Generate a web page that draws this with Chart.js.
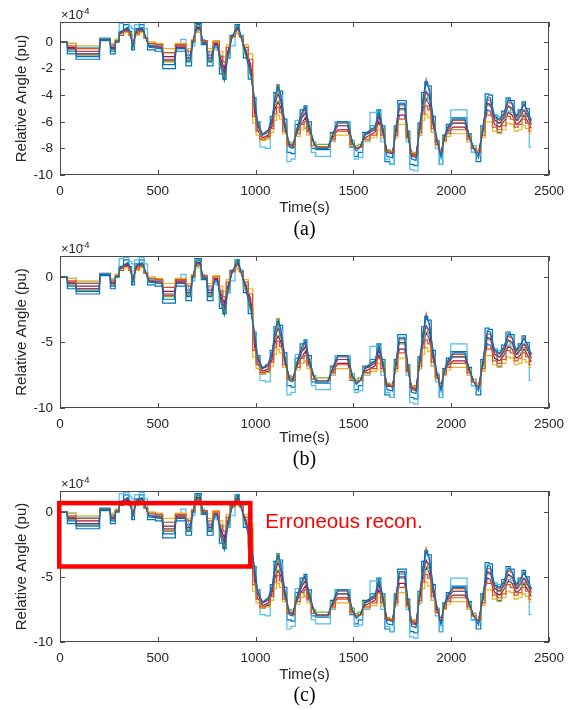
<!DOCTYPE html>
<html>
<head>
<meta charset="utf-8">
<script src="https://cdn.jsdelivr.net/npm/chart.js@4.4.1/dist/chart.umd.min.js"></script>
<style>
  body { margin: 0; background: #fff; width: 578px; height: 710px; position: relative; overflow: hidden; }
  canvas { position: absolute; left: 0; }
</style>
</head>
<body>
<canvas id="chartA" width="578" height="250" style="top:0"></canvas>
<canvas id="chartB" width="578" height="250" style="top:235px"></canvas>
<canvas id="chartC" width="578" height="240" style="top:470px"></canvas>
<script>
// time axis (s)
const times = [0,35,40,80,85,200,205,255,260,280, 285,300,305,345,360,372,390,420,440,455,
  520,530,585,595,640,648,665,680,700,715, 730,750,756,775,790,805,825,840,860,880,
  910,925,950,975,995,1010,1035,1065,1085,1100, 1115,1128,1148,1172,1190,1215,1240,1255,1270,1300,
  1315,1370,1395,1420,1470,1495,1515,1535,1560,1610, 1630,1650,1672,1700,1718,1735,1762,1778,1798,1820,
  1840,1858,1872,1888,1908,1930,1948,1965,1985,2010, 2070,2092,2115,2140,2162,2185,2200,2222,2248,2268,
  2292,2312,2332,2352,2372,2388,2410];

// relative angle, x1e-4 pu
const lineBlue1 = [0,0,-0.7,-0.7,-1.1,-1.1,0.2,0.2,-0.7,-0.7, 0,0,0.7,1.1,0.7,-0.4,0.9,1.1,0.3,-0.4,
  -0.5,-1.7,-1.7,-0.5,-0.5,-1.5,-1.5,0,1.3,1.3, -0.1,-0.1,-1.5,-1.5,-0.3,-0.3,-2.1,-2.9,-1.0,0.4,
  1.3,0.4,-1.0,-2.5,-4.3,-6.0,-7.0,-6.6,-5.7,-4.0, -3.3,-3.9,-5.9,-7.9,-8.0,-6.3,-5.2,-4.9,-6.0,-7.7,
  -8.0,-8.0,-6.9,-6.0,-6.0,-7.5,-8.2,-7.9,-6.9,-6.4, -5.2,-6.4,-8.6,-8.7,-6.4,-4.6,-4.6,-6.7,-8.8,-8.9,
  -6.2,-4.0,-3.1,-3.5,-5.7,-7.5,-8.7,-7.1,-6.3,-5.8, -5.8,-7.0,-8.0,-8.7,-6.4,-4.1,-4.2,-5.6,-5.8,-5.4,
  -4.3,-4.6,-5.6,-5.2,-4.7,-5.1,-5.9];
const lineOrange1 = [0,0,-0.3,-0.3,-0.5,-0.5,0.2,0.2,-0.3,-0.3, 0.1,0.1,0.5,0.8,0.5,-0.1,0.6,0.8,0.3,-0.1,
  -0.2,-0.8,-0.8,-0.2,-0.2,-0.7,-0.7,0.1,0.9,0.9, 0.1,0.1,-0.7,-0.7,0,0,-1.1,-1.5,-0.4,0.4,
  0.9,0.4,-0.4,-1.3,-5.6,-6.7,-7.3,-7.1,-6.5,-5.4, -4.9,-5.3,-6.7,-7.8,-7.9,-6.9,-6.2,-6.0,-6.7,-7.8,
  -7.9,-7.9,-7.3,-6.7,-6.7,-7.7,-8.0,-7.9,-7.3,-7.0, -6.2,-7.0,-8.2,-8.3,-7.0,-5.8,-5.8,-7.2,-8.4,-8.5,
  -6.8,-5.4,-4.8,-5.1,-6.5,-7.7,-8.3,-7.4,-6.9,-6.6, -6.6,-7.3,-8.0,-8.3,-7.0,-5.5,-5.5,-6.4,-6.6,-6.3,
  -5.6,-5.8,-6.4,-6.2,-5.8,-6.1,-6.7];
const lineYellow = [0,0,-0.1,-0.1,-0.3,-0.3,0.2,0.2,-0.1,-0.1, 0.2,0.2,0.5,0.7,0.5,0,0.5,0.7,0.3,0,
  -0.1,-0.5,-0.5,-0.1,-0.1,-0.5,-0.5,0.2,0.7,0.7, 0.1,0.1,-0.5,-0.5,0.1,0.1,-0.7,-1.1,-0.2,0.4,
  0.7,0.4,-0.2,-0.9,-6.1,-7.0,-7.4,-7.3,-6.8,-5.9, -5.5,-5.8,-6.9,-7.8,-7.9,-7.1,-6.6,-6.4,-7.0,-7.8,
  -7.9,-7.9,-7.4,-7.0,-7.0,-7.8,-8.0,-7.9,-7.4,-7.2, -6.6,-7.2,-8.2,-8.2,-7.2,-6.2,-6.2,-7.3,-8.3,-8.4,
  -7.0,-5.9,-5.4,-5.7,-6.8,-7.8,-8.2,-7.5,-7.1,-6.9, -6.9,-7.5,-8.0,-8.2,-7.2,-6.0,-6.0,-6.7,-6.9,-6.6,
  -6.1,-6.2,-6.7,-6.6,-6.3,-6.5,-6.9];
const linePurple = [0,0,-0.5,-0.5,-0.9,-0.9,0.2,0.2,-0.5,-0.5, 0.1,0.1,0.6,1.0,0.6,-0.3,0.8,1.0,0.3,-0.3,
  -0.4,-1.3,-1.3,-0.4,-0.4,-1.2,-1.2,0.1,1.1,1.1, 0,0,-1.2,-1.2,-0.2,-0.2,-1.7,-2.3,-0.7,0.4,
  1.1,0.4,-0.7,-2.0,-4.8,-6.3,-7.0,-6.8,-6.0,-4.5, -3.9,-4.4,-6.2,-7.7,-7.8,-6.5,-5.6,-5.3,-6.3,-7.7,
  -7.9,-7.9,-7.0,-6.3,-6.3,-7.6,-8.0,-7.9,-7.0,-6.6, -5.6,-6.6,-8.3,-8.4,-6.6,-5.0,-5.0,-6.9,-8.5,-8.6,
  -6.4,-4.5,-3.7,-4.1,-6.0,-7.6,-8.4,-7.2,-6.5,-6.1, -6.1,-7.1,-8.0,-8.4,-6.6,-4.6,-4.7,-5.9,-6.1,-5.7,
  -4.8,-5.0,-5.9,-5.6,-5.1,-5.5,-6.2];
const lineGreen = [0,0,-0.6,-0.6,-1.0,-1.0,0.2,0.2,-0.6,-0.6, 0,0,0.7,0.8,0.7,-0.3,0.8,0.9,0.3,-0.3,
  -0.5,-1.5,-1.5,-0.5,-0.5,-1.4,-1.4,0,1.2,1.2, -0.1,-0.1,-1.4,-1.4,-0.2,-0.2,-1.9,-2.7,-0.9,0.4,
  1.2,0.4,-0.9,-2.3,-4.9,-6.3,-6.9,-6.7,-6.0,-4.7, -3.2,-4.6,-6.2,-7.5,-7.6,-6.5,-5.6,-5.4,-6.3,-7.5,
  -7.7,-7.7,-6.9,-6.3,-6.3,-7.4,-7.8,-7.7,-6.9,-6.5, -5.6,-6.5,-8.1,-8.2,-6.5,-5.1,-5.1,-6.8,-8.3,-8.3,
  -6.4,-4.7,-3.9,-4.3,-6.0,-7.4,-8.2,-7.1,-6.5,-6.1, -6.1,-7.0,-7.8,-8.2,-6.5,-4.7,-4.8,-5.9,-6.1,-5.7,
  -4.9,-5.1,-5.9,-5.6,-5.2,-5.6,-6.2];
const lineCyan = [0,0,-0.1,-0.1,-0.4,-0.4,0.3,0.3,-0.2,-0.2, 0.2,0.2,1.4,1.5,1.2,1.0,1.3,1.5,1.0,-0.2,
  -0.3,-0.8,-0.8,-0.2,0.2,-0.6,-1.4,-0.3,0.8,0.9, 0.2,0.1,-0.8,-1.5,-0.4,-0.6,-1.0,-1.5,-1.2,-0.3,
  0.6,0.5,-0.6,-2.4,-4.5,-6.5,-7.9,-8.0,-6.2,-3.9, -3.8,-4.0,-6.5,-9.0,-8.8,-5.9,-6.0,-6.5,-6.8,-8.3,
  -8.6,-8.6,-7.5,-6.0,-6.0,-7.8,-8.8,-8.7,-7.5,-5.3, -5.3,-7.5,-8.8,-9.2,-7.0,-4.8,-4.8,-7.5,-9.6,-9.7,
  -7.0,-5.0,-4.2,-4.5,-6.8,-8.0,-9.2,-7.5,-6.8,-5.1, -5.1,-7.5,-8.3,-8.5,-6.8,-5.2,-5.2,-5.5,-5.6,-5.8,
  -5.2,-5.3,-5.9,-5.8,-5.4,-5.6,-7.9];
const lineRed = [0,0,-0.4,-0.4,-0.7,-0.7,0.2,0.2,-0.4,-0.4, 0.1,0.1,0.6,0.9,0.6,-0.2,0.7,0.9,0.3,-0.2,
  -0.3,-1.1,-1.1,-0.3,-0.3,-1.0,-1.0,0.1,1.0,1.0, 0,0,-1.0,-1.0,-0.1,-0.1,-1.4,-2.0,-0.6,0.4,
  1.0,0.4,-0.6,-1.7,-5.3,-6.6,-7.2,-7.0,-6.3,-5.0, -4.5,-4.9,-6.5,-7.7,-7.8,-6.7,-6.0,-5.7,-6.6,-7.7,
  -7.9,-7.9,-7.2,-6.6,-6.6,-7.7,-8.0,-7.9,-7.2,-6.8, -6.0,-6.8,-8.3,-8.3,-6.8,-5.5,-5.5,-7.1,-8.4,-8.5,
  -6.6,-5.0,-4.3,-4.7,-6.3,-7.7,-8.3,-7.3,-6.7,-6.4, -6.4,-7.2,-8.0,-8.3,-6.8,-5.1,-5.2,-6.2,-6.4,-6.0,
  -5.3,-5.5,-6.2,-6.0,-5.5,-5.9,-6.5];
const lineBlue2 = [0,0,-0.9,-0.9,-1.3,-1.3,0.1,0.1,-0.9,-0.9, 0,0,0.8,1.3,0.8,-0.6,1.0,1.3,0.3,-0.6,
  -0.7,-2.0,-2.0,-0.7,-0.7,-1.8,-1.8,0,1.4,1.4, -0.2,-0.2,-1.8,-1.8,-0.4,-0.4,-2.4,-2.8,-1.2,0.5,
  1.3,0.5,-1.2,-2.8,-4.2,-6.0,-7.4,-7.2,-5.6,-3.8, -3.4,-3.7,-5.8,-8.3,-8.4,-6.2,-5.1,-4.8,-6.0,-8.0,
  -8.1,-8.1,-6.8,-6.0,-6.0,-7.9,-8.6,-8.3,-6.8,-6.3, -5.1,-6.3,-9.0,-9.2,-6.3,-4.4,-4.4,-6.7,-9.2,-9.3,
  -6.1,-3.8,-3.0,-3.3,-5.6,-7.5,-9.2,-7.0,-6.2,-5.7, -5.7,-6.9,-8.3,-9.0,-6.3,-3.9,-4.0,-5.5,-6.8,-5.2,
  -4.2,-4.4,-5.5,-5.1,-4.5,-5.0,-5.8];
const lineOrange2 = [0,0,-0.5,-0.5,-0.9,-0.9,0.2,0.2,-0.5,-0.5, 0.1,0.1,0.7,1.0,0.7,-0.3,0.8,1.0,0.3,-0.3,
  -0.4,-1.4,-1.4,-0.4,-0.4,-1.3,-1.3,0.1,1.1,1.1, -0.1,-0.1,-1.3,-1.3,-0.2,-0.2,-1.7,-2.5,-0.8,0.4,
  1.1,0.4,-0.8,-2.1,-4.5,-6.1,-6.9,-6.7,-5.8,-4.2, -3.5,-4.0,-6.0,-7.7,-7.8,-6.4,-5.4,-5.0,-6.1,-7.7,
  -7.9,-7.9,-6.9,-6.1,-6.1,-7.6,-8.0,-7.9,-6.9,-6.5, -5.4,-6.5,-8.3,-8.4,-6.5,-4.7,-4.7,-6.8,-8.6,-8.7,
  -6.2,-4.2,-2.8,-3.7,-5.8,-7.6,-8.4,-7.1,-6.4,-5.9, -5.9,-7.0,-8.0,-8.4,-6.5,-4.3,-4.4,-5.7,-5.9,-5.5,
  -4.5,-4.7,-5.7,-5.4,-4.6,-5.3,-6.0];

const seriesList = [lineBlue1, lineOrange1, lineYellow, linePurple, lineGreen, lineCyan, lineRed, lineBlue2, lineOrange2];
const seriesColors = ["#0072BD", "#D95319", "#EDB120", "#7E2F8E", "#77AC30", "#4DBEEE", "#A2142F", "#0072BD", "#D95319"];
const seriesStepped = [false, "middle", "middle", false, "middle", "middle", false, "middle", false];

const xTicks = [0, 500, 1000, 1500, 2000, 2500];
const yTicksFine = [-10, -8, -6, -4, -2, 0];
const yTicksCoarse = [-10, -5, 0];

// region marked in (c): time span and angle span
const errorBoxTime = [-4, 973];
const errorBoxAngle = [-4.2, 0.67];

const SANS = "'Liberation Sans', Arial, sans-serif";
const SERIF = "'Liberation Serif', 'Times New Roman', serif";
const INK = "#262626";

const panels = [
  { id: "chartA", h: 250, top: 22, bottom: 175, yMax: 1.5, yTicks: yTicksFine, timeGap: 33, capGap: 55, caption: "(a)", box: false },
  { id: "chartB", h: 250, top: 21, bottom: 173, yMax: 1.6, yTicks: yTicksCoarse, timeGap: 30, capGap: 52, caption: "(b)", box: false },
  { id: "chartC", h: 240, top: 21, bottom: 172, yMax: 1.6, yTicks: yTicksCoarse, timeGap: 33, capGap: 54, caption: "(c)", box: true }
];

function decor(p) {
  return {
    id: "decor",
    afterDraw(chart) {
      const ctx = chart.ctx;
      const a = chart.chartArea;
      const xs = chart.scales.x, ys = chart.scales.y;
      ctx.save();

      // frame
      ctx.strokeStyle = "#4a4a4a";
      ctx.lineWidth = 1;
      ctx.strokeRect(a.left + 0.5, a.top + 0.5, a.right - a.left - 1, a.bottom - a.top - 1);

      // inward ticks on all four sides
      ctx.beginPath();
      xTicks.forEach(v => {
        const px = Math.round(xs.getPixelForValue(v)) + 0.5;
        ctx.moveTo(px, a.bottom); ctx.lineTo(px, a.bottom - 5);
        ctx.moveTo(px, a.top); ctx.lineTo(px, a.top + 5);
      });
      p.yTicks.forEach(v => {
        const py = Math.round(ys.getPixelForValue(v)) + 0.5;
        ctx.moveTo(a.left, py); ctx.lineTo(a.left + 5, py);
        ctx.moveTo(a.right, py); ctx.lineTo(a.right - 5, py);
      });
      ctx.stroke();

      // labels
      ctx.fillStyle = INK;
      ctx.textAlign = "center";
      ctx.textBaseline = "middle";
      ctx.font = "15px " + SANS;
      ctx.fillText("Time(s)", (a.left + a.right) / 2, a.bottom + p.timeGap);

      ctx.save();
      ctx.translate(22, (a.top + a.bottom) / 2);
      ctx.rotate(-Math.PI / 2);
      ctx.fillText("Relative Angle (pu)", 0, 0);
      ctx.restore();

      ctx.textAlign = "left";
      ctx.font = "13px " + SANS;
      ctx.fillText("\u00d710", a.left + 1, a.top - 7);
      ctx.font = "9.5px " + SANS;
      ctx.fillText("-4", a.left + 21, a.top - 11);

      ctx.textAlign = "center";
      ctx.fillStyle = "#000";
      ctx.font = "20px " + SERIF;
      ctx.fillText(p.caption, (a.left + a.right) / 2, a.bottom + p.capGap);

      if (p.box) {
        const x0 = xs.getPixelForValue(errorBoxTime[0]);
        const x1 = xs.getPixelForValue(errorBoxTime[1]);
        const y0 = ys.getPixelForValue(errorBoxAngle[1]);
        const y1 = ys.getPixelForValue(errorBoxAngle[0]);
        ctx.strokeStyle = "#FF0000";
        ctx.lineWidth = 4.5;
        ctx.strokeRect(x0, y0, x1 - x0, y1 - y0);
        ctx.fillStyle = "#FF0000";
        ctx.textAlign = "left";
        ctx.font = "20.5px " + SANS;
        ctx.fillText("Erroneous recon.", x1 + 15, a.top + 31);
      }
      ctx.restore();
    }
  };
}

panels.forEach(p => {
  new Chart(document.getElementById(p.id), {
    type: "line",
    data: {
      datasets: seriesList.map((vals, k) => ({
        data: vals.map((v, i) => ({ x: times[i], y: v })),
        borderColor: seriesColors[k],
        borderWidth: 1.2,
        stepped: seriesStepped[k],
        pointRadius: 0,
        tension: 0,
        fill: false
      }))
    },
    options: {
      responsive: false,
      animation: false,
      devicePixelRatio: 1,
      layout: { padding: { top: p.top, right: 29, left: 0, bottom: 0 } },
      plugins: { legend: { display: false }, tooltip: { enabled: false } },
      scales: {
        x: {
          type: "linear", min: 0, max: 2500,
          grid: { display: false, drawTicks: false },
          border: { display: false },
          afterBuildTicks: s => { s.ticks = xTicks.map(v => ({ value: v })); },
          afterFit: s => { s.height = p.h - p.bottom; },
          ticks: { font: { family: SANS, size: 13.5 }, color: INK, padding: 8, maxRotation: 0, autoSkip: false,
                   callback: v => String(v) }
        },
        y: {
          min: -10, max: p.yMax,
          grid: { display: false, drawTicks: false },
          border: { display: false },
          afterBuildTicks: s => { s.ticks = p.yTicks.map(v => ({ value: v })); },
          afterFit: s => { s.width = 60; },
          ticks: { font: { family: SANS, size: 13.5 }, color: INK, padding: 7, callback: v => String(v) }
        }
      }
    },
    plugins: [decor(p)]
  });
});
</script>
</body>
</html>
